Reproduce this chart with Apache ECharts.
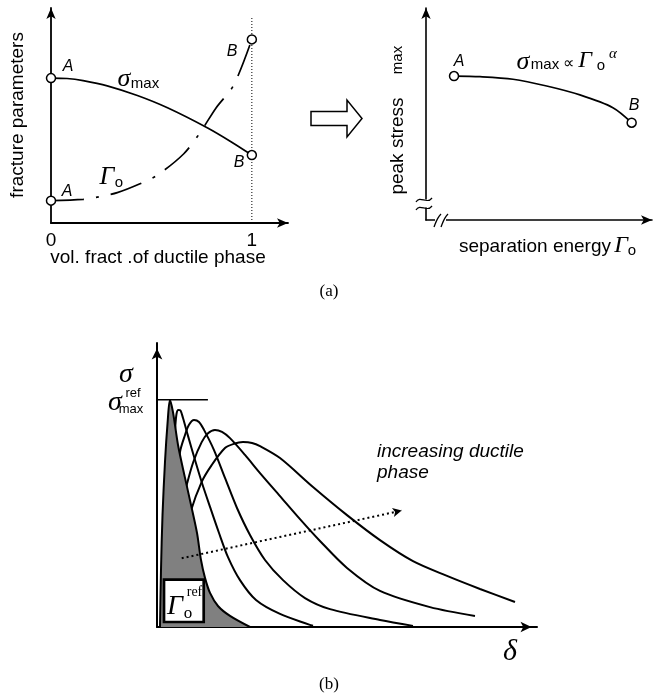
<!DOCTYPE html>
<html><head><meta charset="utf-8">
<script src="https://cdn.jsdelivr.net/npm/echarts@6/dist/echarts.min.js"></script>
<style>html,body{margin:0;padding:0;background:#fff}#c{width:658px;height:699px}</style>
</head><body><div id="c"></div>
<script>
// ---------- Panel (a), left: fracture parameters vs vol. fraction ----------
const fracX      = [0, 0.08, 0.16, 0.28, 0.43, 0.58, 0.78, 0.9, 1.0];
const sigmaMaxY  = [6.74, 6.72, 6.62, 6.38, 5.93, 5.36, 4.42, 3.76, 3.16];
const gammaX     = [0, 0.16, 0.24, 0.33, 0.44, 0.53, 0.66, 0.74, 0.82, 0.91, 1.0];
const gammaY     = [1.04, 1.10, 1.22, 1.41, 1.81, 2.23, 3.21, 4.17, 5.33, 6.42, 8.54];
const volTicks   = ['0', '1'];
const fullDuctileX = [1, 1];
const fullDuctileY = [0, 9.6];
// ---------- Panel (a), right: peak stress vs separation energy ----------
const sepEnergyX = [1.24, 2.39, 3.85, 5.34, 6.81, 8.27, 9.10];
const peakStressY= [6.79, 6.76, 6.64, 6.32, 5.90, 5.30, 4.59];
// ---------- Panel (b): traction-separation curves ----------
const refX = [0.079, 0.105, 0.145, 0.21, 0.28, 0.34, 0.42, 0.553, 0.737, 0.895, 1.053, 1.158, 1.263, 1.395, 1.605, 1.921, 2.447];
const refY = [0, 2.01, 3.94, 5.81, 7.22, 7.99, 7.57, 6.41, 5.25, 4.30, 3.31, 2.36, 1.73, 1.20, 0.74, 0.39, 0];
const c2X = [0.368, 0.474, 0.513, 0.56, 0.618, 0.684, 0.816, 1.0, 1.184, 1.395, 1.632, 1.868, 2.184, 2.605, 3.237, 4.105];
const c2Y = [5.18, 6.94, 7.50, 7.64, 7.62, 7.36, 6.73, 5.88, 5.07, 4.23, 3.31, 2.46, 1.65, 0.95, 0.46, 0.04];
const c3X = [0.5, 0.605, 0.737, 0.842, 0.974, 1.105, 1.237, 1.5, 1.789, 2.105, 2.447, 2.842, 3.316, 3.895, 4.553, 5.868, 6.737];
const c3Y = [4.82, 6.16, 6.76, 7.12, 7.29, 7.22, 6.94, 6.23, 5.25, 4.19, 3.24, 2.36, 1.65, 1.02, 0.63, 0.25, 0.04];
const c4X = [0.605, 0.782, 0.955, 1.176, 1.342, 1.526, 1.711, 1.921, 2.316, 2.711, 3.237, 3.763, 4.289, 5.0, 5.868, 7.184, 8.368];
const c4Y = [4.01, 5.0, 5.81, 6.51, 6.82, 6.94, 6.87, 6.65, 6.06, 5.42, 4.61, 3.80, 3.03, 2.08, 1.27, 0.70, 0.39];
const c5X = [0.711, 0.882, 1.176, 1.439, 1.789, 2.026, 2.263, 2.5, 2.711, 3.237, 4.105, 5.0, 5.868, 6.737, 7.632, 8.5, 9.421];
const c5Y = [3.06, 4.05, 5.11, 5.70, 6.30, 6.45, 6.51, 6.48, 6.37, 5.95, 4.93, 3.94, 3.06, 2.32, 1.80, 1.34, 0.88];
const refLevelX = [-0.29, 1.34];
const refLevelY = [8.0, 8.0];
const trendStart = [0.65, 2.42];
const trendEnd   = [6.44, 4.1];

const SANS = '"Liberation Sans", Arial, Helvetica, sans-serif';
const SERIF = '"Liberation Serif", "Times New Roman", Times, serif';
const zip = (xs, ys) => xs.map((x, i) => [x, ys[i]]);
const ends = (xs, ys) => [[xs[0], ys[0]], [xs[xs.length - 1], ys[ys.length - 1]]];

function T(x, y, text, size, opt) {
  opt = opt || {};
  return { type: 'text', x: x, y: y, rotation: opt.rot || 0, z: 100,
    style: { text: text, font: (opt.italic ? 'italic ' : '') + size + 'px ' + (opt.serif ? SERIF : SANS),
      fill: '#000', align: opt.align || 'center', verticalAlign: 'middle' } };
}
function B(x1, y1, cx1, cy1, cx2, cy2, x2, y2) {
  return { type: 'bezierCurve', z: 51,
    shape: { x1: x1, y1: y1, cpx1: cx1, cpy1: cy1, cpx2: cx2, cpy2: cy2, x2: x2, y2: y2 },
    style: { fill: null, stroke: '#000', lineWidth: 1.3 } };
}

function axisBase(w, arrowSize, offset) {
  return { type: 'value', axisTick: { show: false }, splitLine: { show: false }, axisLabel: { show: false },
    axisLine: { show: true, onZero: false, lineStyle: { color: '#000', width: w },
      symbol: ['none', 'arrow'], symbolSize: arrowSize, symbolOffset: [0, offset] } };
}

const xA0 = Object.assign(axisBase(1.8, [7, 11], 0), { gridIndex: 0, min: 0, max: 1.18, interval: 1 });
xA0.axisLabel = { show: true, color: '#000', fontSize: 19, fontFamily: SANS, margin: 8,
  formatter: v => (v === 0 ? volTicks[0] : (v === 1 ? volTicks[1] : '')) };
const yA0 = Object.assign(axisBase(1.8, [7, 11], 0), { gridIndex: 0, min: 0, max: 10 });
const xA1 = Object.assign(axisBase(1.6, [7, 11], 0), { gridIndex: 1, min: 0, max: 10 });
const yA1 = Object.assign(axisBase(1.6, [7, 11], 0), { gridIndex: 1, min: 0, max: 10 });
const xA2 = Object.assign(axisBase(2, [8, 11], -5.5), { gridIndex: 2, min: 0, max: 10 });
const yA2 = Object.assign(axisBase(2, [8, 11], -5.5), { gridIndex: 2, min: 0, max: 10 });

const blackLine = w => ({ color: '#000', width: w });
const curve = (xs, ys, g, w, extra) => Object.assign({ type: 'line', xAxisIndex: g, yAxisIndex: g,
  data: zip(xs, ys), smooth: 0.3, symbol: 'none', lineStyle: blackLine(w), z: 2, silent: true }, extra || {});
const circles = (pts, g) => ({ type: 'scatter', xAxisIndex: g, yAxisIndex: g, data: pts, symbol: 'circle',
  symbolSize: 9, itemStyle: { color: '#fff', borderColor: '#000', borderWidth: 1.5, opacity: 1 }, z: 6, silent: true });

const option = {
  animation: false,
  backgroundColor: '#fff',
  grid: [
    { left: 51, top: 8, width: 237, height: 215 },
    { left: 426, top: 8, width: 226, height: 212 },
    { left: 157, top: 343, width: 380, height: 284 }
  ],
  xAxis: [xA0, xA1, xA2],
  yAxis: [yA0, yA1, yA2],
  series: [
    curve(fracX, sigmaMaxY, 0, 1.7),
    curve(gammaX, gammaY, 0, 1.7, { lineStyle: { color: '#000', width: 1.7, type: [33, 12, 3, 12] } }),
    curve(fullDuctileX, fullDuctileY, 0, 1, { smooth: false, lineStyle: { color: '#000', width: 1, type: [1, 2] } }),
    circles(ends(fracX, sigmaMaxY).concat(ends(gammaX, gammaY)), 0),
    curve(sepEnergyX, peakStressY, 1, 1.7),
    circles(ends(sepEnergyX, peakStressY), 1),
    curve(c2X, c2Y, 2, 2),
    curve(c3X, c3Y, 2, 2),
    curve(c4X, c4Y, 2, 2),
    curve(c5X, c5Y, 2, 2),
    curve(refX, refY, 2, 2, { z: 3, areaStyle: { color: '#808080', opacity: 1, origin: 'start' } }),
    curve(refLevelX, refLevelY, 2, 1.6, { smooth: false, clip: false, z: 4,
      markLine: { silent: true, symbol: ['none', 'arrow'], symbolSize: [7, 9], animation: false,
        label: { show: false }, lineStyle: { type: [2, 3], width: 2, color: '#000' },
        data: [[{ coord: trendStart }, { coord: trendEnd }]] } })
  ],
  graphic: { elements: [
    { type: 'polygon', shape: { points: [[311, 111.5], [347, 111.5], [347, 100], [362, 118.5], [347, 137], [347, 125.5], [311, 125.5]] },
      style: { fill: '#fff', stroke: '#000', lineWidth: 1.5 }, z: 50 },
    { type: 'rect', shape: { x: 421, y: 199.5, width: 9, height: 8 }, style: { fill: '#fff' }, z: 50 },
    { type: 'rect', shape: { x: 435, y: 217, width: 11, height: 8 }, style: { fill: '#fff' }, z: 50 },
    B(416, 202, 420, 195, 427, 205, 432, 198),
    B(416, 210, 420, 203, 427, 213, 432, 206),
    B(434, 227, 436, 222, 437, 218, 441, 214),
    B(441, 227, 443, 222, 444, 218, 448, 214),
    { type: 'rect', shape: { x: 164, y: 579.7, width: 39.7, height: 42.3 }, style: { fill: '#fff', stroke: '#000', lineWidth: 2.7 }, z: 50 },
    T(18, 115, 'fracture parameters', 19, { rot: Math.PI / 2 }),
    T(158, 258, 'vol. fract .of ductile phase', 19),
    T(68, 67, 'A', 16, { italic: true }),
    T(67, 192, 'A', 16, { italic: true }),
    T(232, 52, 'B', 16, { italic: true }),
    T(239, 163, 'B', 16, { italic: true }),
    T(124, 79, 'σ', 26, { italic: true, serif: true }),
    T(145, 84, 'max', 15),
    T(107, 177, 'Γ', 26, { italic: true, serif: true }),
    T(119, 183, 'o', 15),
    T(459, 62, 'A', 16, { italic: true }),
    T(634, 106, 'B', 16, { italic: true }),
    T(523, 62, 'σ', 26, { italic: true, serif: true }),
    T(545, 65, 'max', 15),
    T(568, 64, '∝', 16),
    T(585, 61, 'Γ', 24, { italic: true, serif: true }),
    T(601, 66, 'o', 15),
    T(613, 54, 'α', 15, { italic: true, serif: true }),
    T(398, 146, 'peak stress', 19, { rot: Math.PI / 2 }),
    T(398, 60, 'max', 15, { rot: Math.PI / 2 }),
    T(611, 247, 'separation energy', 19, { align: 'right' }),
    T(621, 246, 'Γ', 24, { italic: true, serif: true }),
    T(632, 251, 'o', 15),
    T(329, 292, '(a)', 17, { serif: true }),
    T(126, 375, 'σ', 28, { italic: true, serif: true }),
    T(115, 403, 'σ', 28, { italic: true, serif: true }),
    T(133, 393, 'ref', 13),
    T(131, 409, 'max', 13),
    T(377, 452, 'increasing ductile', 19, { italic: true, align: 'left' }),
    T(377, 473, 'phase', 19, { italic: true, align: 'left' }),
    T(175, 607, 'Γ', 28, { italic: true, serif: true }),
    T(188, 614, 'o', 17, { serif: true }),
    T(194.5, 592, 'ref', 14, { serif: true }),
    T(510, 652, 'δ', 30, { italic: true, serif: true }),
    T(329, 685, '(b)', 17, { serif: true })
  ] }
};
const chart = echarts.init(document.getElementById('c'), null, { renderer: 'canvas' });
chart.setOption(option);
</script></body></html>
